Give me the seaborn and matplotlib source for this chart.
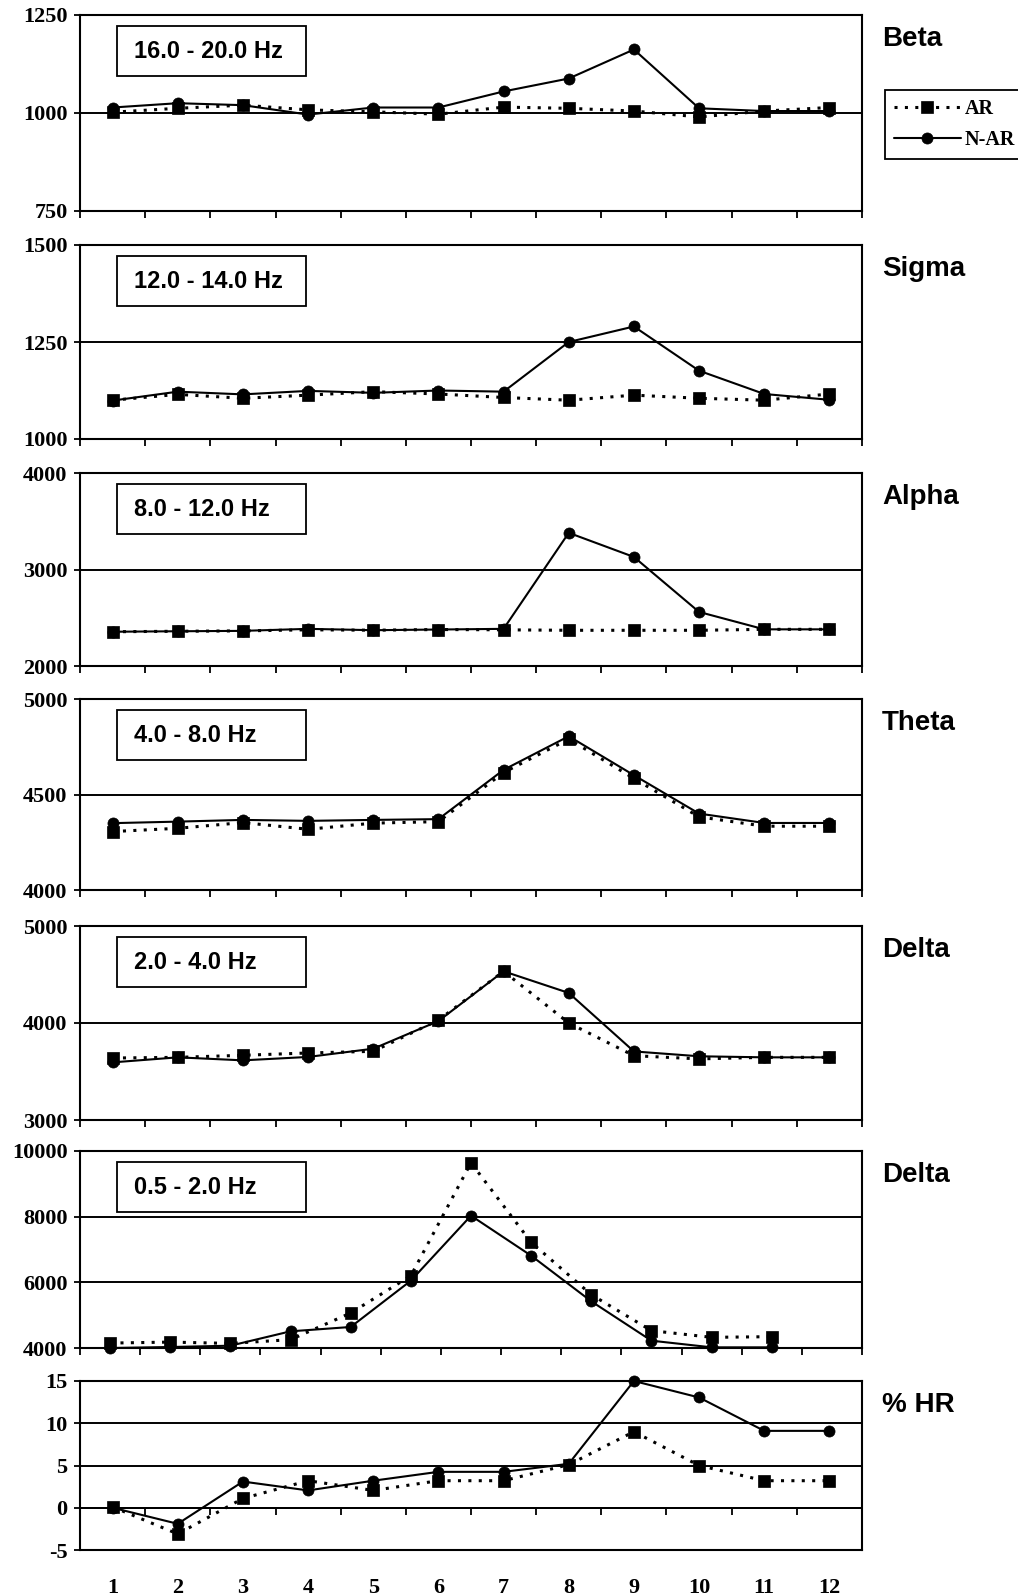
import matplotlib
matplotlib.use("Agg")
import matplotlib.pyplot as plt
import seaborn as sns
import pandas as pd
from matplotlib.patches import Rectangle
from matplotlib.ticker import FixedLocator, NullFormatter

# ---------------- data ----------------
epochs = list(range(1, 13))
x_labels = [str(i) for i in epochs]

band_names = ["Beta", "Sigma", "Alpha", "Theta", "Delta", "Delta", "% HR"]
band_ranges = ["16.0 - 20.0 Hz", "12.0 - 14.0 Hz", "8.0 - 12.0 Hz",
               "4.0 - 8.0 Hz", "2.0 - 4.0 Hz", "0.5 - 2.0 Hz", None]

beta_ar = [1002, 1012, 1020, 1008, 1003, 997, 1015, 1012, 1005, 990, 1005, 1014]
beta_nar = [1014, 1025, 1020, 996, 1014, 1014, 1055, 1088, 1162, 1012, 1005, 1005]

sigma_ar = [1100, 1115, 1105, 1113, 1122, 1116, 1107, 1100, 1113, 1105, 1100, 1116]
sigma_nar = [1099, 1122, 1115, 1124, 1119, 1125, 1122, 1250, 1290, 1176, 1116, 1101]

alpha_ar = [2355, 2360, 2364, 2375, 2371, 2378, 2375, 2370, 2370, 2370, 2380, 2380]
alpha_nar = [2355, 2360, 2364, 2385, 2371, 2378, 2385, 3380, 3130, 2560, 2380, 2380]

theta_ar = [4306, 4323, 4353, 4318, 4350, 4358, 4615, 4790, 4584, 4383, 4334, 4334]
theta_nar = [4350, 4358, 4367, 4362, 4367, 4371, 4629, 4805, 4601, 4400, 4351, 4351]

delta_ar = [3639, 3646, 3667, 3691, 3708, 4030, 4533, 4000, 3663, 3630, 3646, 3646]
delta_nar = [3594, 3646, 3615, 3650, 3735, 4020, 4533, 4310, 3707, 3657, 3646, 3646]

sdelta_ar = [4150, 4180, 4140, 4254, 5066, 6200, 9640, 7218, 5624, 4528, 4325, 4345]
sdelta_nar = [4000, 4030, 4070, 4508, 4640, 6050, 8030, 6812, 5421, 4223, 4020, 4020]

hr_ar = [0.1, -3.1, 1.1, 3.2, 2.05, 3.2, 3.2, 5.1, 9.0, 5.0, 3.2, 3.2]
hr_nar = [0.0, -1.9, 3.1, 2.05, 3.2, 4.25, 4.25, 5.2, 15.0, 13.05, 9.1, 9.1]

series_ar = [beta_ar, sigma_ar, alpha_ar, theta_ar, delta_ar, sdelta_ar, hr_ar]
series_nar = [beta_nar, sigma_nar, alpha_nar, theta_nar, delta_nar, sdelta_nar, hr_nar]

y_ticks = [[750, 1000, 1250], [1000, 1250, 1500], [2000, 3000, 4000],
           [4000, 4500, 5000], [3000, 4000, 5000], [4000, 6000, 8000, 10000],
           [-5, 0, 5, 10, 15]]
n_slots = [12, 12, 12, 12, 12, 13, 12]

# ---------------- layout (pixels) ----------------
W, H = 1018, 1596
tops = [15, 245, 473, 699, 926, 1151, 1381]
bottoms = [211, 439, 666, 890, 1120, 1348, 1550]
left_px, right_px = 80, 862

sns.set_theme(style="white", rc={
    "axes.edgecolor": "black", "axes.linewidth": 1.5,
    "text.color": "black", "xtick.color": "black", "ytick.color": "black",
    "xtick.direction": "out", "ytick.direction": "out",
    "xtick.bottom": True, "ytick.left": True,
})
plt.rcParams["font.family"] = ["Liberation Sans", "DejaVu Sans"]

fig = plt.figure(figsize=(W / 100, H / 100), dpi=100)


def fx(px):
    return px / W


def fy(py):
    return 1 - py / H


serif = ["Liberation Serif", "DejaVu Serif"]
sans = ["Liberation Sans", "DejaVu Sans"]
legend_handles = None

for i in range(7):
    ax = fig.add_axes([fx(left_px), fy(bottoms[i]),
                       fx(right_px) - fx(left_px), fy(tops[i]) - fy(bottoms[i])])
    df = pd.DataFrame({"epoch": epochs, "AR": series_ar[i], "N-AR": series_nar[i]})

    sns.lineplot(data=df, x="epoch", y="N-AR", ax=ax, color="black",
                 linestyle="-", linewidth=1.5, marker="o", markersize=8,
                 markeredgecolor="black", markeredgewidth=0.5, label="N-AR",
                 legend=False, zorder=3, clip_on=False)
    sns.lineplot(data=df, x="epoch", y="AR", ax=ax, color="black",
                 linestyle=(0, (1.0, 2.4)), linewidth=2.2, marker="s",
                 markersize=8, markeredgecolor="black", markeredgewidth=0.5,
                 label="AR", legend=False, zorder=4, clip_on=False)
    if ax.get_legend() is not None:
        ax.get_legend().remove()

    yt = y_ticks[i]
    ax.set_ylim(yt[0], yt[-1])
    ax.set_yticks(yt)
    ax.set_yticklabels([str(v) for v in yt], fontfamily=serif,
                       fontweight="bold", fontsize=16)
    ax.tick_params(axis="y", length=4, width=1.3, pad=5)
    for v in yt[1:-1]:
        ax.axhline(v, color="black", linewidth=1.4, zorder=1)

    ns = n_slots[i]
    ax.set_xlim(0.5, ns + 0.5)
    bounds = [k + 0.5 for k in range(ns + 1)]
    ax.set_xlabel("")
    ax.set_ylabel("")

    if i < 6:
        ax.xaxis.set_major_locator(FixedLocator(bounds))
        ax.xaxis.set_major_formatter(NullFormatter())
        ax.tick_params(axis="x", length=5, width=1.3)
    else:
        ax.set_xticks(epochs)
        ax.set_xticklabels(x_labels, fontfamily=serif, fontweight="bold",
                           fontsize=16)
        ax.tick_params(axis="x", length=0, pad=20)
        zero_frac = (0 - yt[0]) / (yt[-1] - yt[0])
        sec = ax.secondary_xaxis(zero_frac)
        sec.set_xticks(bounds)
        sec.xaxis.set_major_formatter(NullFormatter())
        sec.tick_params(axis="x", length=5, width=1.3, direction="out")
        sec.spines["bottom"].set_linewidth(1.4)

    for s in ax.spines.values():
        s.set_visible(True)
        s.set_color("black")
        s.set_linewidth(1.5)

    # band name on the right
    fig.text(fx(882), fy(tops[i] + 31), band_names[i], fontsize=20,
             fontweight="bold", family=sans, ha="left", va="baseline")

    # frequency-range box
    if band_ranges[i] is not None:
        bx0, bx1 = 117, 306
        by0, by1 = tops[i] + 11, tops[i] + 61
        fig.patches.append(Rectangle((fx(bx0), fy(by1)), fx(bx1) - fx(bx0),
                                     fy(by0) - fy(by1), transform=fig.transFigure,
                                     facecolor="white", edgecolor="black",
                                     linewidth=1.3, zorder=5))
        fig.text(fx(134), fy((by0 + by1) / 2), band_ranges[i], fontsize=17,
                 fontweight="bold", family=sans, ha="left", va="center",
                 zorder=6)

    if i == 0:
        h, l = ax.get_legend_handles_labels()
        order = [l.index("AR"), l.index("N-AR")]
        legend_handles = ([h[k] for k in order], [l[k] for k in order])

leg = fig.legend(legend_handles[0], legend_handles[1], loc="upper left",
                 bbox_to_anchor=(fx(885), fy(90)), borderaxespad=0,
                 frameon=True, fancybox=False, framealpha=1, edgecolor="black",
                 handlelength=3.3, handletextpad=0.2, borderpad=0.45,
                 labelspacing=0.55, prop={"family": serif, "weight": "bold",
                                          "size": 14.5})
leg.get_frame().set_linewidth(1.3)

fig.savefig("out.png", dpi=100)
